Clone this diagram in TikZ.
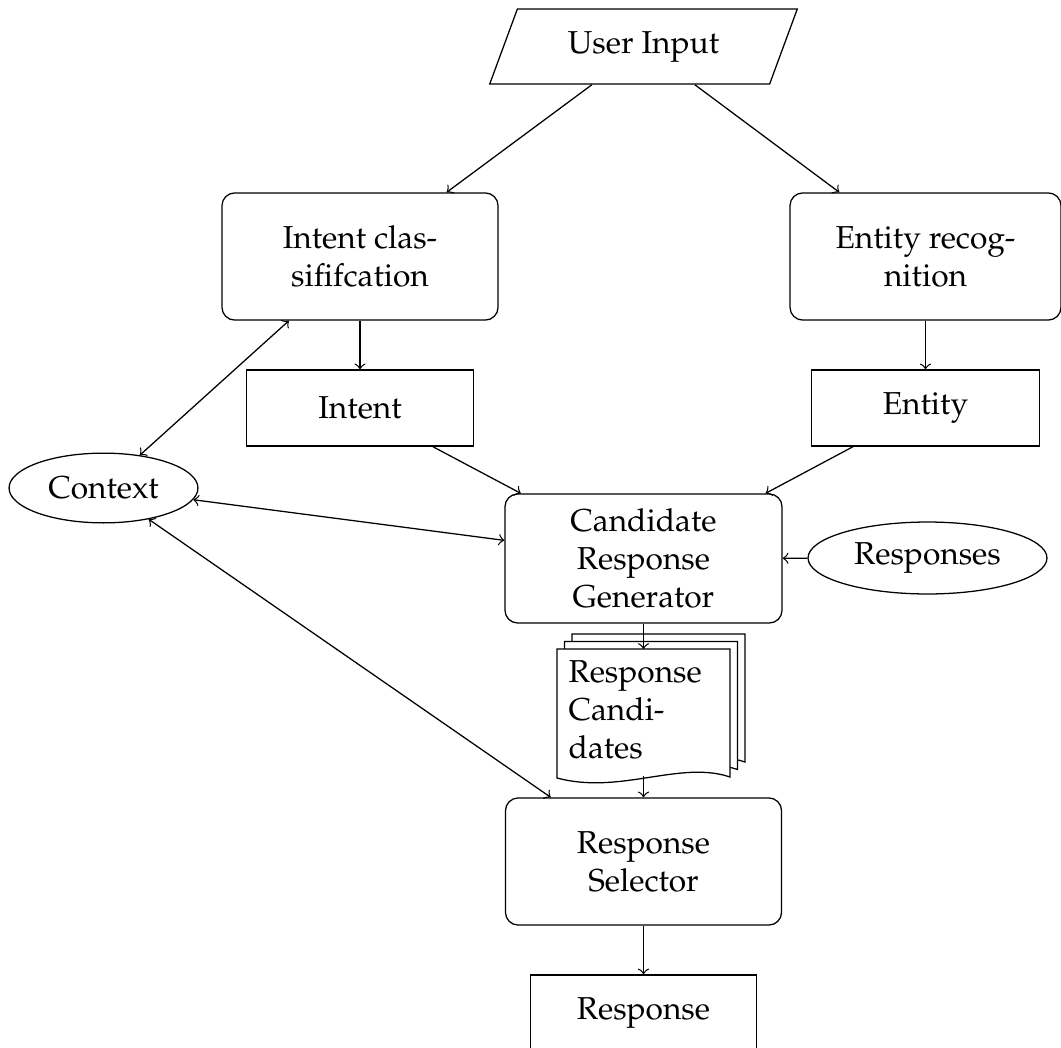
\documentclass[tikz,border=0pt]{standalone}
\usepackage[T1]{fontenc}
\usepackage{mathpazo}
\usetikzlibrary{shapes.geometric}
\tikzset{
  rbox/.style={draw, rounded corners=4pt, minimum width=87.1pt, minimum height=40.1pt, align=center, inner sep=0pt},
  sbox/.style={draw, minimum width=71.6pt, minimum height=24pt, align=center},
  ell/.style={draw, ellipse, inner sep=0pt},
  io/.style={draw, trapezium, trapezium left angle=70, trapezium right angle=110, trapezium stretches=true, minimum width=97.5pt, minimum height=23.7pt},
  conn/.style={->},
  biconn/.style={<->},
  page/.style={draw, fill=white},
}
\begin{document}
\begin{tikzpicture}[x=0.3155pt,y=-0.3155pt]
\useasboundingbox (0,0) rectangle (1061,1047);

% nodes
\node[io] (user) at (643.5,46.5) {User Input};
\node[rbox] (intentc) at (360,256.5) {Intent clas-\\sififcation};
\node[rbox, minimum width=85.5pt] (entityc) at (925.5,256.5) {Entity recog-\\nition};
\node[sbox] (intent) at (360,408) {Intent};
\node[sbox, minimum width=71.9pt] (entity) at (925.5,408) {Entity};
\node[ell, minimum width=59.6pt, minimum height=22pt] (context) at (103.5,488) {Context};
\node[rbox, minimum width=87.4pt, minimum height=40.7pt] (cand) at (643.5,558.5) {Candidate\\Response\\Generator};
\node[ell, minimum width=75.4pt, minimum height=22.7pt] (responses) at (927.5,558) {Responses};
\node[rbox] (sel) at (643.5,861.5) {Response\\Selector};
\node[sbox, minimum width=71.3pt] (resp) at (643.5,1013) {Response};

% document stack
\foreach \d in {15,7.5,0} {
  \draw[page] (557+\d,649-\d) -- (730+\d,649-\d) -- (730+\d,777-\d)
    .. controls (680+\d,760-\d) and (620+\d,795-\d) .. (557+\d,778-\d) -- cycle;
}
\node[anchor=north west, inner sep=0pt, text width=55pt, align=left] (doctext) at (568,660) {Response\\Candi-\\dates};
\coordinate (doctop) at (643.5,649);
\coordinate (docbot) at (643.5,776);

% connectors
\draw[conn] (user) -- (intentc);
\draw[conn] (user) -- (entityc);
\draw[conn] (intentc) -- (intent);
\draw[conn] (entityc) -- (entity);
\draw[conn] (intent) -- (cand);
\draw[conn] (entity) -- (cand);
\draw[biconn] (context) -- (intentc);
\draw[biconn] (context) -- (cand);
\draw[biconn] (context) -- (sel);
\draw[conn] (responses) -- (cand);
\draw[conn] (cand) -- (doctop);
\draw[conn] (docbot) -- (sel);
\draw[conn] (sel) -- (resp);
\end{tikzpicture}
\end{document}
